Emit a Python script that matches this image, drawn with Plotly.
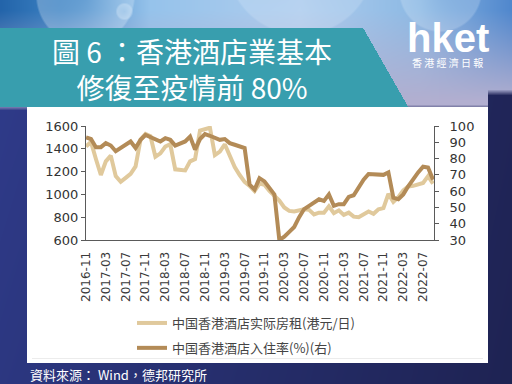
import base64
import struct
import zlib

import numpy as np
import plotly.graph_objects as go

# ---------------- data ----------------
START_YEAR, START_MONTH, N_MONTHS = 2016, 11, 71
MONTHS = []
for k in range(N_MONTHS):
    m = START_MONTH - 1 + k
    MONTHS.append(f"{START_YEAR + m // 12}-{m % 12 + 1:02d}")

TICK_LABELS = ["2016-11", "2017-03", "2017-07", "2017-11", "2018-03", "2018-07",
               "2018-11", "2019-03", "2019-07", "2019-11", "2020-03", "2020-07",
               "2020-11", "2021-03", "2021-07", "2021-11", "2022-03", "2022-07"]

# 中国香港酒店实际房租(港元/日)  (left axis)
ROOM_RATE = [1420, 1460, 1310, 1170, 1290, 1340, 1160, 1110, 1145, 1180,
             1245, 1480, 1530, 1510, 1330, 1360, 1420, 1440, 1220, 1215,
             1210, 1290, 1310, 1560, 1570, 1585, 1345, 1375, 1440, 1345,
             1240, 1170, 1110, 1075, 1030, 1095, 1085, 1030, 990, 945,
             885, 855, 850, 860, 870, 865, 825, 840, 840, 895,
             835, 860, 820, 840, 805, 800, 830, 850, 830, 870,
             880, 1005, 935, 975, 1035, 1070, 1075, 1090, 1100, 1160,
             1095]

# 中国香港酒店入住率(%)  (right axis)
OCCUPANCY = [93, 92, 87, 87, 89.5, 88, 84.5, 86.5, 89, 90.5,
             86.5, 91.5, 94.5, 93, 92, 90.5, 92.5, 91.5, 88, 89.5,
             90.5, 93.5, 85.5, 92, 95, 94, 92.5, 91.5, 92, 89.5,
             88.5, 87.5, 86.5, 64, 61, 68, 66, 62, 58, 30,
             32, 35, 38, 44, 49, 51, 53, 55, 54, 58,
             51, 52, 52, 56.5, 57.5, 62.5, 67, 70.5, 70.5, 70.5,
             70, 71.5, 56, 55, 58, 63, 67.5, 71.5, 75, 74.5,
             67]

NAME_RATE = "中国香港酒店实际房租(港元/日)"
NAME_OCC = "中国香港酒店入住率(%)(右)"

LEFT_RANGE = [600, 1600]
RIGHT_RANGE = [30, 100]

# ---------------- geometry ----------------
W, H = 512, 384
ML, MR, MT, MB = 86, 78, 126, 144
PW, PH = W - ML - MR, H - MT - MB


def px2x(px):
    return (px - ML) / PW


def py2y(py):
    return (H - MB - py) / PH


# ---------------- background picture ----------------
def lerp(a, b, t):
    return a + (b - a) * t


yy, xx = np.mgrid[0:H, 0:W].astype(float)

# sky
stops_x = np.array([0, 60, 150, 300, 420, 512], float)
stops_c = np.array([[35, 100, 170], [60, 130, 195], [150, 195, 235],
                    [175, 205, 238], [140, 185, 228], [80, 135, 205]], float)
top = np.stack([np.interp(xx, stops_x, stops_c[:, c]) for c in range(3)], -1)
lav = np.array([178, 175, 208], float)
tv = np.clip((yy - 10) / 90.0, 0, 1)[..., None]
sky = lerp(top, lav, tv)

# bubbles
for cx, cy, r, a in [(85, -5, 50, 0.28), (124, 11, 9, 0.35), (300, -40, 75, 0.18),
                     (440, -10, 42, 0.22)]:
    d = np.sqrt((xx - cx) ** 2 + (yy - cy) ** 2)
    inside = np.clip((r - d) / 2.0, 0, 1) * (0.4 + 0.6 * np.clip(d / r, 0, 1))
    sky = lerp(sky, np.array([240, 248, 255], float), (a * inside)[..., None])

# navy
navy = np.stack([lerp(48, 33, xx / W), lerp(60, 38, xx / W), lerp(140, 90, xx / W)], -1)
navy = navy * (1 - 0.08 * (yy / H))[..., None]

sky_limit = np.where(xx >= 488, 92, 107)
mix = np.clip((yy - sky_limit) / 6.0 + 0.5, 0, 1)[..., None]
img = lerp(sky, navy, mix)

# banner
edge = 363 + (yy - 28) * (45.0 / 79.0)
banner = (yy >= 28) & (yy < 107) & (xx < edge)
img[banner] = [56, 158, 174]

# white panel
panel = (xx >= 27) & (xx < 488) & (yy >= 107) & (yy < 363)
img[panel] = [255, 255, 255]
line = (yy >= 358) & (yy < 359) & (xx >= 32) & (xx < 483)
img[line] = [236, 236, 236]

img = np.clip(img, 0, 255).astype(np.uint8)


def make_png(a):
    h, w, _ = a.shape
    raw = b"".join(b"\x00" + a[r].tobytes() for r in range(h))

    def chunk(t, d):
        c = struct.pack(">I", len(d)) + t + d
        return c + struct.pack(">I", zlib.crc32(t + d) & 0xFFFFFFFF)

    return (b"\x89PNG\r\n\x1a\n"
            + chunk(b"IHDR", struct.pack(">IIBBBBB", w, h, 8, 2, 0, 0, 0))
            + chunk(b"IDAT", zlib.compress(raw, 9))
            + chunk(b"IEND", b""))


bg_src = "data:image/png;base64," + base64.b64encode(make_png(img)).decode()

# ---------------- figure ----------------
LIGHT = "#e0c99c"
DARK = "#b38b57"
AXIS = "#5a5a5a"
TICKFONT = dict(family="DejaVu Sans", size=13, color="#333333")

fig = go.Figure()
fig.add_trace(go.Scatter(x=MONTHS, y=ROOM_RATE, name=NAME_RATE, mode="lines",
                         line=dict(color=LIGHT, width=4), legendgroup="a",
                         xaxis="x", yaxis="y", hoverinfo="skip"))
fig.add_trace(go.Scatter(x=MONTHS, y=OCCUPANCY, name=NAME_OCC, mode="lines",
                         line=dict(color=DARK, width=4), legendgroup="b",
                         xaxis="x", yaxis="y2", hoverinfo="skip"))

N_SPAN = N_MONTHS - 0.8
fig.update_layout(
    width=W, height=H,
    margin=dict(l=ML, r=MR, t=MT, b=MB, autoexpand=False),
    paper_bgcolor="#2c3578",
    plot_bgcolor="rgba(0,0,0,0)",
    showlegend=True,
    xaxis=dict(type="category", range=[0, N_SPAN], tickvals=TICK_LABELS,
               ticktext=TICK_LABELS, tickangle=-90, ticks="", showline=True,
               linecolor=AXIS, linewidth=1, showgrid=False, zeroline=False,
               ticklabelstandoff=6,
               tickfont=dict(family="DejaVu Sans", size=12, color="#3a3a3a")),
    xaxis2=dict(type="linear", range=[0, N_SPAN], tick0=0, dtick=4.92,
                overlaying="x", anchor="y", side="bottom", ticks="inside",
                ticklen=4, tickcolor=AXIS, showticklabels=False,
                showline=False, showgrid=False, zeroline=False),
    yaxis=dict(range=LEFT_RANGE, dtick=200, ticks="outside", ticklen=4,
               tickcolor=AXIS, showline=True, linecolor=AXIS, linewidth=1,
               showgrid=False, zeroline=False, tickfont=TICKFONT),
    yaxis2=dict(range=RIGHT_RANGE, dtick=10, overlaying="y", side="right",
                anchor="x", ticks="outside", ticklen=4, tickcolor=AXIS,
                showline=True, linecolor=AXIS, linewidth=1, showgrid=False,
                zeroline=False, tickfont=TICKFONT, ticklabelstandoff=8),
    legend=dict(x=px2x(132), y=py2y(308), xanchor="left", yanchor="top",
                orientation="v", bgcolor="rgba(0,0,0,0)", traceorder="grouped",
                tracegroupgap=5,
                font=dict(family="Noto Sans CJK SC", size=13, color="#444444")),
    images=[dict(source=bg_src, xref="paper", yref="paper",
                 x=px2x(0), y=py2y(0), sizex=W / PW, sizey=H / PH,
                 xanchor="left", yanchor="top", sizing="stretch", layer="below")],
)

annotations = [
    dict(text="圖 6 ：香港酒店業基本<br>修復至疫情前 80%", x=px2x(192), y=py2y(68.5),
         font=dict(family="Noto Sans CJK TC", size=28, color="white")),
    dict(text="hket", x=px2x(448), y=py2y(38),
         font=dict(family="Liberation Sans", size=40, color="white", weight=700)),
    dict(text="香 港 經 濟 日 報", x=px2x(448), y=py2y(62),
         font=dict(family="Noto Sans CJK TC", size=10, color="white")),
    dict(text="資料來源： Wind，德邦研究所", x=px2x(28), y=py2y(374), xanchor="left",
         font=dict(family="Noto Sans CJK TC", size=13, color="white")),
]
for a in annotations:
    a.setdefault("xanchor", "center")
    fig.add_annotation(xref="paper", yref="paper", yanchor="middle",
                       showarrow=False, **a)

fig.write_html("out.html",
               config={"displayModeBar": False, "staticPlot": True},
               post_script="document.body.style.margin='0px';"
                           "document.body.style.overflow='hidden';")
